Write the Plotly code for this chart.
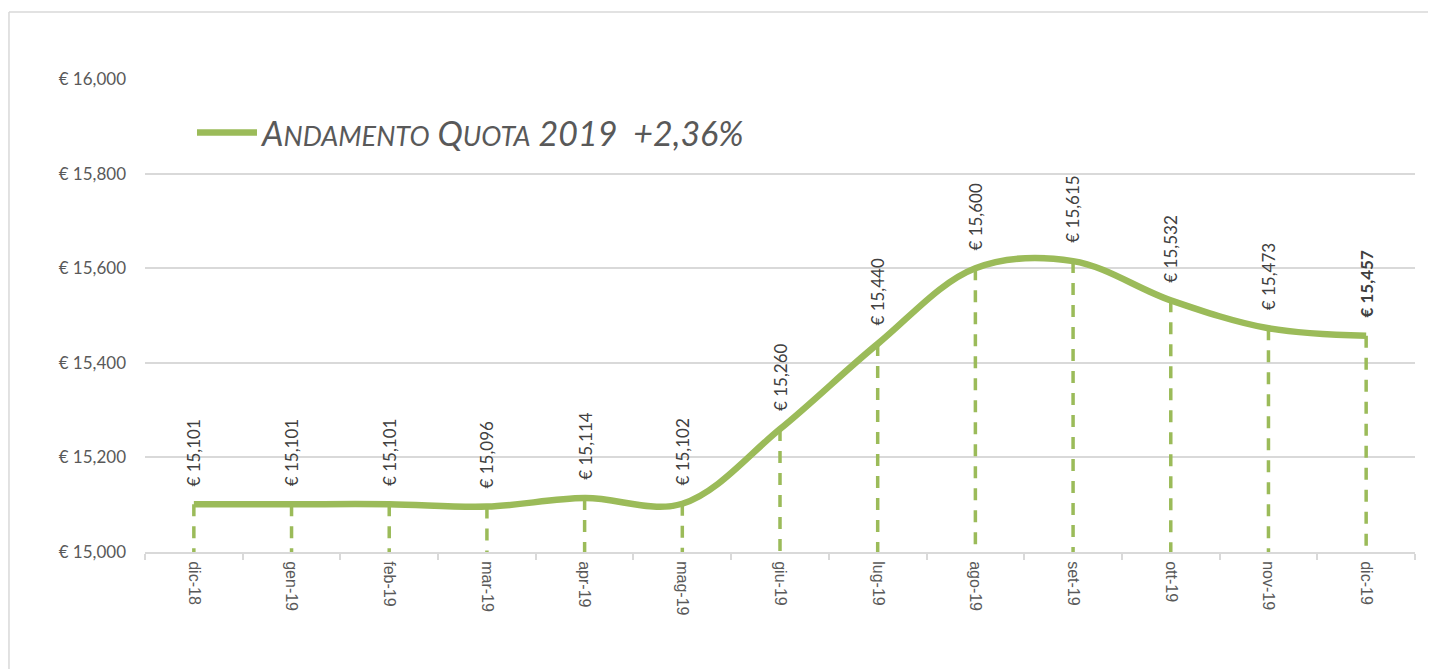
import plotly.graph_objects as go

# ---- data ----
months = ["dic-18", "gen-19", "feb-19", "mar-19", "apr-19", "mag-19", "giu-19",
          "lug-19", "ago-19", "set-19", "ott-19", "nov-19", "dic-19"]
quota = [15101, 15101, 15101, 15096, 15114, 15102, 15260,
         15440, 15600, 15615, 15532, 15473, 15457]
y_min, y_max, y_step = 15000, 16000, 200
series_change = "+2,36%"

GREEN = "#9BBB59"
GRID = "#d9d9d9"
TXT = "#595959"

fig = go.Figure()

# drop lines from each point to the axis
drop_x, drop_y = [], []
for m, v in zip(months, quota):
    drop_x += [m, m, None]
    drop_y += [v, y_min, None]
fig.add_trace(go.Scatter(
    x=drop_x, y=drop_y, mode="lines", showlegend=False, hoverinfo="skip",
    line=dict(color=GREEN, width=3.5, dash="12px,10px"),
))

legend_label = ("<i>A<span style='font-size:27px'>NDAMENTO</span> "
                "Q<span style='font-size:27px'>UOTA</span> 2019\u00a0\u00a0"
                + series_change + "</i>")

fig.add_trace(go.Scatter(
    x=months, y=quota, mode="lines", name=legend_label,
    line=dict(color=GREEN, width=6.5, shape="spline", smoothing=1.0),
))

# rotated data labels
for i, (m, v) in enumerate(zip(months, quota)):
    txt = f"€ {v:,}"
    if i == len(months) - 1:
        txt = f"<b>{txt}</b>"
    fig.add_annotation(
        x=m, y=v, text=txt, textangle=-90, showarrow=False,
        xanchor="center", yanchor="bottom", yshift=16,
        font=dict(family="Lato", size=17, color="#404040"),
    )

# outer chart border (only top and left edges are inside the picture)
fig.add_shape(type="line", xref="paper", yref="paper",
              x0=-0.1071, x1=1.3, y0=1.1416, y1=1.1416,
              line=dict(color=GRID, width=1.5), layer="below")
fig.add_shape(type="line", xref="paper", yref="paper",
              x0=-0.1071, x1=-0.1071, y0=-0.6, y1=1.1416,
              line=dict(color=GRID, width=1.5), layer="below")

fig.update_layout(
    width=1436, height=669,
    margin=dict(l=137, r=29, t=71, b=125),
    paper_bgcolor="white", plot_bgcolor="white",
    showlegend=True,
    legend=dict(
        x=0.037, y=0.886, xanchor="left", yanchor="middle",
        bgcolor="rgba(0,0,0,0)", itemwidth=60,
        font=dict(family="Lato", size=34, color=TXT),
    ),
    xaxis=dict(
        type="category", range=[-0.5, len(months) - 0.5],
        showgrid=False, showline=True, linecolor=GRID, linewidth=2,
        ticks="outside", tickson="boundaries", ticklen=6, tickcolor=GRID, tickwidth=2,
        tickangle=90, ticklabelstandoff=4,
        tickfont=dict(family="Liberation Sans", size=16, color=TXT),
    ),
    yaxis=dict(
        range=[y_min, y_max], dtick=y_step, tick0=y_min,
        tickprefix="€ ", tickformat=",d",
        showgrid=True, gridcolor=GRID, gridwidth=1.5,
        zeroline=False, showline=False, ticks="",
        ticklabelstandoff=18,
        tickfont=dict(family="Lato", size=17, color=TXT),
    ),
)

fig.write_html("out.html")
